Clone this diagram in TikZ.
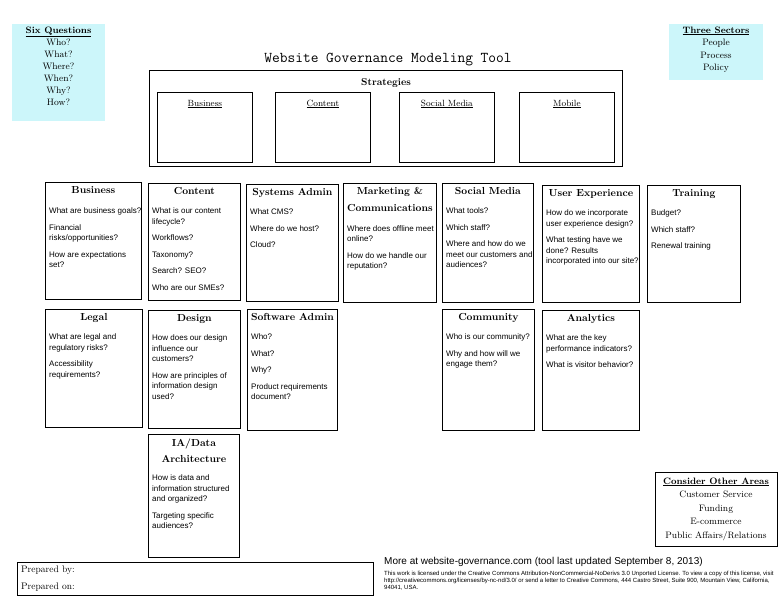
\documentclass[tikz,border=0pt]{standalone}
\usepackage{fontspec}
\setsansfont{Liberation Sans}
\usetikzlibrary{positioning}

\definecolor{notecyan}{RGB}{204,246,250}

\tikzset{
  govbox/.style={draw, line width=0.8pt, anchor=north west, inner sep=0pt},
  boxhead/.style={anchor=north, inner sep=0pt, align=center, font=\bfseries\fontsize{10.2}{16.5}\selectfont},
  boxbody/.style={anchor=north west, inner sep=0pt, align=left, font=\sffamily\fontsize{8}{10.5}\selectfont},
  listline/.style={anchor=base, inner sep=0pt, font=\fontsize{9.3}{12}\selectfont},
  stratlabel/.style={anchor=base, inner sep=0pt, font=\fontsize{9}{11}\selectfont},
}

% name, x, y, width, height, heading, body shift, body
\newcommand\govbox[8]{%
  \node[govbox, minimum width=#4, minimum height=#5] (#1) at (#2,#3) {};
  \node[boxhead] (#1-head) at ([yshift=-4.5pt]#1.north) {#6};
  \node[boxbody] (#1-body) at ([xshift=4pt,yshift=-#7pt]#1.north west) {#8};
}

\begin{document}
\begin{tikzpicture}[x=1pt, y=-1pt]
  \useasboundingbox (0,0) rectangle (781,608);

  % side notes
  \node[fill=notecyan, anchor=north west, minimum width=93, minimum height=97, inner sep=0pt] (questions) at (12,24) {};
  \node[listline] (questions-head) at (58.5,33) {\underline{\textbf{Six Questions}}};
  \foreach \q [count=\i] in {Who?, What?, Where?, When?, Why?, How?}
    \node[listline] (q-\i) at (58.5,33+12*\i) {\q};

  \node[fill=notecyan, anchor=north west, minimum width=94, minimum height=56, inner sep=0pt] (sectors) at (669,24) {};
  \node[listline] (sectors-head) at (716,33) {\underline{\textbf{Three Sectors}}};
  \foreach \s [count=\i] in {People, Process, Policy}
    \node[listline] (s-\i) at (716,33.5+12.3*\i) {\s};

  % title and strategies
  \node[anchor=base, inner sep=0pt, font=\ttfamily\fontsize{15}{18}\selectfont] (title) at (388,62) {Website Governance Modeling Tool};
  \node[govbox, minimum width=473, minimum height=96] (strategies) at (149,70) {};
  \node[anchor=base, inner sep=0pt, font=\bfseries\fontsize{10}{12}\selectfont] (strategies-head) at (386,85.5) {Strategies};
  \foreach \n/\x/\t in {business/157/Business, content/275/Content, social/399/Social Media, mobile/519/Mobile} {
    \node[govbox, minimum width=95, minimum height=70] (strat-\n) at (\x,92) {};
    \node[stratlabel] (strat-\n-label) at ([yshift=-14pt]strat-\n.north) {\underline{\t}};
  }

  % first row
  \govbox{business}{45}{182}{96}{117}{Business}{25.5}{What are business goals?\\[6pt]Financial\\risks/opportunities?\\[6pt]How are expectations\\set?}
  \govbox{content}{148}{183}{92}{117}{Content}{24.5}{What is our content\\lifecycle?\\[6pt]Workflows?\\[6pt]Taxonomy?\\[6pt]Search? SEO?\\[6pt]Who are our SMEs?}
  \govbox{sysadmin}{246}{184}{92}{117}{Systems Admin}{24.5}{What CMS?\\[6pt]Where do we host?\\[6pt]Cloud?}
  \govbox{marketing}{343}{183}{93}{119}{Marketing \&\\Communications}{42}{Where does offline meet\\online?\\[6pt]How do we handle our\\reputation?}
  \govbox{social}{442}{183}{91}{119}{Social Media}{24.5}{What tools?\\[6pt]Which staff?\\[6pt]Where and how do we\\meet our customers and\\audiences?}
  \govbox{ux}{542}{185}{97}{117}{User Experience}{24.5}{How do we incorporate\\user experience design?\\[6pt]What testing have we\\done? Results\\incorporated into our site?}
  \govbox{training}{647}{185}{93}{117}{Training}{24.5}{Budget?\\[6pt]Which staff?\\[6pt]Renewal training}

  % second row
  \govbox{legal}{45}{309}{97}{118}{Legal}{24.5}{What are legal and\\regulatory risks?\\[6pt]Accessibility\\requirements?}
  \govbox{design}{148}{310}{92}{118}{Design}{24.5}{How does our design\\influence our\\customers?\\[6pt]How are principles of\\information design\\used?}
  \govbox{swadmin}{247}{309}{90}{121}{Software Admin}{24.5}{Who?\\[6pt]What?\\[6pt]Why?\\[6pt]Product requirements\\document?}
  \govbox{community}{442}{309}{92}{121}{Community}{24.5}{Who is our community?\\[6pt]Why and how will we\\engage them?}
  \govbox{analytics}{542}{310}{97}{120}{Analytics}{24.5}{What are the key\\performance indicators?\\[6pt]What is visitor behavior?}

  % third row
  \govbox{iadata}{148}{434}{91}{123}{IA/Data\\Architecture}{40.5}{How is data and\\information structured\\and organized?\\[6pt]Targeting specific\\audiences?}

  % other areas
  \node[govbox, minimum width=122, minimum height=74] (other) at (655,472) {};
  \node[listline] (other-head) at (716,484) {\underline{\textbf{Consider Other Areas}}};
  \foreach \a [count=\i] in {Customer Service, Funding, E-commerce, Public Affairs/Relations}
    \node[listline] (a-\i) at (716,484+13.5*\i) {\a};

  % footer
  \node[govbox, minimum width=356, minimum height=33] (prepared) at (17,562) {};
  \node[anchor=base west, inner sep=0pt, font=\fontsize{9.5}{12}\selectfont] (prepared-by) at (21,572.5) {Prepared by:};
  \node[anchor=base west, inner sep=0pt, font=\fontsize{9.5}{12}\selectfont] (prepared-on) at (21,589.5) {Prepared on:};

  \node[anchor=base west, inner sep=0pt, font=\sffamily\fontsize{10}{12}\selectfont] (more) at (384,564.5) {More at website-governance.com (tool last updated September 8, 2013)};
  \node[anchor=north west, inner sep=0pt, align=left, font=\sffamily\fontsize{6}{7.4}\selectfont] (licence) at (384,570.5) {This work is licensed under the Creative Commons Attribution-NonCommercial-NoDerivs 3.0 Unported License. To view a copy of this license, visit\\http://creativecommons.org/licenses/by-nc-nd/3.0/ or send a letter to Creative Commons, 444 Castro Street, Suite 900, Mountain View, California,\\94041, USA.};
\end{tikzpicture}
\end{document}
